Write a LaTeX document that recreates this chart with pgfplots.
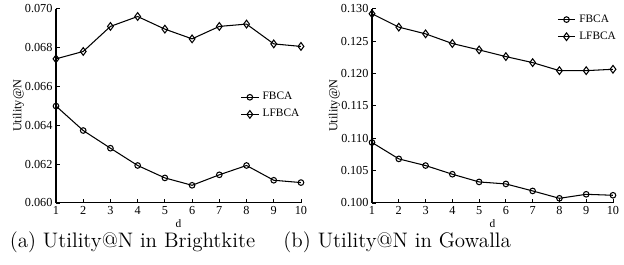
\documentclass[border=0pt]{standalone}
\usepackage{pgfplots}
\pgfplotsset{compat=1.18}
\usepackage{fontspec}
\newfontfamily\tmsf{Liberation Serif}
\pgfplotsset{
  mystyle/.style={
    scale only axis,
    width=140pt, height=111pt,
    axis lines*=left,
    axis line style={line width=0.6pt, -},
    tick align=inside,
    major tick length=2.5pt,
    tick style={line width=0.5pt, black},
    xmin=1, xmax=10, xtick={1,...,10},
    /pgf/number format/assume math mode=true,
    tick label style={font=\tmsf\fontsize{7}{7}\selectfont},
    xlabel={d},
    xlabel style={font=\tmsf\fontsize{6.5}{7}\selectfont, at={(axis description cs:0.5,0)}, anchor=center, yshift=-12pt},
    ylabel={Utility@N},
    ylabel style={font=\tmsf\fontsize{7}{7}\selectfont, at={(axis description cs:0,0.5)}, anchor=center, yshift=21.5pt},
    xticklabel style={yshift=1.5pt},
    yticklabel style={xshift=1.5pt},
    legend style={draw=none, fill=none, font=\tmsf\fontsize{6.5}{7}\selectfont, row sep=0pt, inner sep=1pt},
    legend cell align=left,
    legend image code/.code={\draw[mark repeat=2,mark phase=2,#1] plot coordinates {(0pt,0pt) (5pt,0pt) (10pt,0pt)};},
    every axis plot/.append style={black, line width=0.6pt},
    yticklabel style={/pgf/number format/fixed, /pgf/number format/fixed zerofill, /pgf/number format/precision=3},
    scaled y ticks=false,
  }
}
\begin{document}
\begin{tikzpicture}
\useasboundingbox (0,0) rectangle (356.6pt,151.4pt);
\begin{axis}[mystyle, at={(32pt,35.4pt)}, anchor=origin,
  ymin=0.060, ymax=0.070, ytick={0.060,0.062,0.064,0.066,0.068,0.070},
  legend style={at={(0.745,0.50)}, anchor=west}]
\addplot[mark=o, mark size=1.6pt] coordinates {(1,0.06499) (2,0.06373) (3,0.06282) (4,0.06193) (5,0.06129) (6,0.06091) (7,0.06145) (8,0.06193) (9,0.06117) (10,0.06105)};
\addlegendentry{FBCA}
\addplot[mark=diamond, mark size=2.2pt] coordinates {(1,0.06742) (2,0.06780) (3,0.06909) (4,0.06960) (5,0.06895) (6,0.06845) (7,0.06909) (8,0.06921) (9,0.06819) (10,0.06806)};
\addlegendentry{LFBCA}
\end{axis}
\begin{axis}[mystyle, at={(212.6pt,35.4pt)}, anchor=origin, width=137.7pt,
  ymin=0.100, ymax=0.130, ytick={0.100,0.105,0.110,0.115,0.120,0.125,0.130},
  legend style={at={(0.76,0.90)}, anchor=west}]
\addplot[mark=o, mark size=1.6pt] coordinates {(1,0.10934) (2,0.10681) (3,0.10578) (4,0.10444) (5,0.10325) (6,0.10294) (7,0.10186) (8,0.10072) (9,0.10134) (10,0.10119)};
\addlegendentry{FBCA}
\addplot[mark=diamond, mark size=2.2pt] coordinates {(1,0.12922) (2,0.12716) (3,0.12612) (4,0.12463) (5,0.12364) (6,0.12261) (7,0.12168) (8,0.12044) (9,0.12044) (10,0.12065)};
\addlegendentry{LFBCA}
\end{axis}
\node[font=\fontsize{12}{13}\selectfont] at (75.7pt,13.1pt) {(a) Utility@N in Brightkite};
\node[font=\fontsize{12}{13}\selectfont] at (227pt,13.1pt) {(b) Utility@N in Gowalla};
\end{tikzpicture}
\end{document}
